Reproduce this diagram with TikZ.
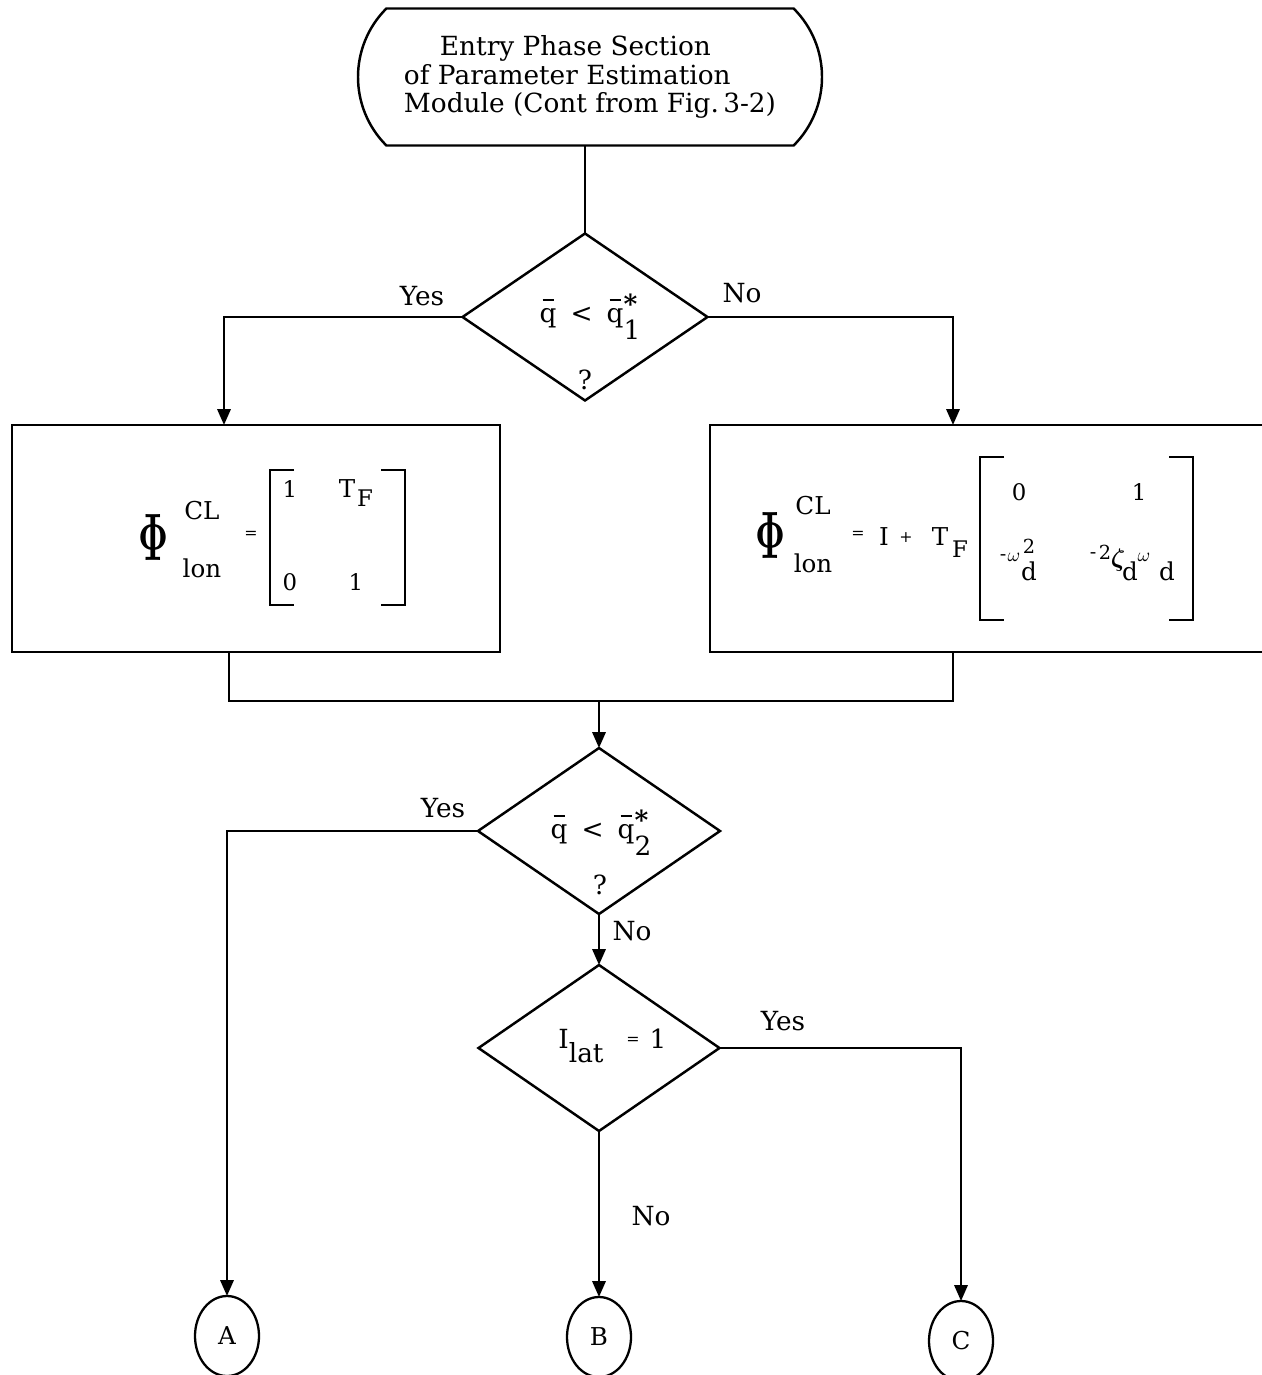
\documentclass[tikz,border=0pt]{standalone}
\usepackage{fontspec}
\usepackage{bm}
\setmainfont{DejaVu Serif}
\usetikzlibrary{shapes.geometric,shapes.misc,arrows.meta,calc}
\newlength\px
\setlength\px{0.02cm}
\newcommand\qb{\makebox[0pt][l]{\hspace{3\px}\raisebox{21\px}{\rule{11\px}{1.8\px}}}q}
\newcommand\qs[1]{\makebox[0pt][l]{\raisebox{9\px}{\textbf{*}}}\raisebox{-17\px}{#1}}
\begin{document}
\begin{tikzpicture}[x=0.02cm,y=-0.02cm,line width=1.4pt,
  every node/.style={inner sep=0pt,outer sep=0pt},
  txt/.style={anchor=base,font=\fontsize{15}{16}\selectfont},
  mid/.style={anchor=base,font=\fontsize{14}{15}\selectfont},
  sml/.style={anchor=base,font=\fontsize{13}{14}\selectfont},
  tiny/.style={anchor=base,font=\fontsize{11}{12}\selectfont},
  eqs/.style={font=\fontsize{9}{9}\selectfont},
  arr/.style={-{Triangle[length=9pt,width=7.5pt]}},
  dia/.style={draw,diamond},
  brk/.style={line width=1.3pt},
  conn/.style={draw,ellipse,line width=1.3pt,minimum width=64\px,minimum height=80\px,font=\fontsize{14}{15}\selectfont}]
\useasboundingbox (0,0) rectangle (1261,1375);

% terminal
\node[draw,rounded rectangle,rounded rectangle arc length=90,minimum width=464\px,minimum height=137\px,
  align=left,font=\fontsize{15}{16}\selectfont] (start) at (590,77)
  {\hspace*{36\px}Entry Phase Section\\of Parameter Estimation\\Module (Cont from Fig.\,3-2)};

% decision 1
\node[dia,minimum width=245\px,minimum height=167\px] (d1) at (585,317) {};
\node[txt] (d1a) at (590,322) {\qb\hspace{14\px}<\hspace{14\px}\qb\qs{1}};
\node[txt] (d1q) at (585,389) {?};

% process boxes
\node[draw,minimum width=488\px,minimum height=227\px] (b1) at (256,538.5) {};
\node[draw,minimum width=565\px,minimum height=227\px] (b2) at (992.5,538.5) {};

% left box formula
\node (phL) at (153,537) {\resizebox{30\px}{46\px}{$\bm{\Phi}$}};
\node[mid] (clL) at (202,519) {CL};
\node[mid] (lonL) at (202,577) {lon};
\node[eqs] (eqL) at (251,535) {=};
\draw[brk] (294,470) -- (270,470) -- (270,605) -- (294,605);
\draw[brk] (381,470) -- (405,470) -- (405,605) -- (381,605);
\node[sml] (m11) at (290,497) {1};
\node[mid] (m12) at (347,497) {T};
\node[sml] (m12s) at (365,506) {F};
\node[sml] (m21) at (290,590) {0};
\node[sml] (m22) at (356,590) {1};

% right box formula
\node (phR) at (770,535) {\resizebox{30\px}{46\px}{$\bm{\Phi}$}};
\node[mid] (clR) at (813,514) {CL};
\node[mid] (lonR) at (813,572) {lon};
\node[eqs] (eqR) at (858,535) {=};
\node[mid] (iR) at (884,545) {I};
\node[eqs] (plR) at (906,538) {+};
\node[mid] (tR) at (940,545) {T};
\node[sml] (fR) at (960,557) {F};
\draw[brk] (1004,457) -- (980,457) -- (980,620) -- (1004,620);
\draw[brk] (1169,457) -- (1193,457) -- (1193,620) -- (1169,620);
\node[sml] (n11) at (1019,500) {0};
\node[sml] (n12) at (1139,500) {1};
\node[tiny] (n21a) at (1003,560) {-};
\node[tiny] (n21b) at (1014,561) {$\omega$};
\node[tiny] (n21c) at (1029,553) {2};
\node[mid] (n21d) at (1029,580) {d};
\node[tiny] (n22a) at (1093,558) {-};
\node[tiny] (n22b) at (1105,559) {2};
\node[anchor=base,font=\fontsize{14}{15}\selectfont] (n22c) at (1118,566) {$\bm{\zeta}$};
\node[mid] (n22d) at (1130,580) {d};
\node[tiny] (n22e) at (1144,561) {$\omega$};
\node[mid] (n22f) at (1167,580) {d};

% decision 2
\node[dia,minimum width=242\px,minimum height=166\px] (d2) at (599,831) {};
\node[txt] (d2a) at (601,838) {\qb\hspace{14\px}<\hspace{14\px}\qb\qs{2}};
\node[txt] (d2q) at (600,894) {?};

% decision 3
\node[dia,minimum width=241\px,minimum height=166\px] (d3) at (599,1048) {};
\node[txt] (d3a) at (581,1048) {I\raisebox{-14\px}{lat}};
\node[eqs] (d3b) at (633,1041) {=};
\node[txt] (d3c) at (658,1048) {1};

% connectors
\node[conn] (cA) at (227,1336) {A};
\node[conn] (cB) at (599,1337) {B};
\node[conn] (cC) at (961,1341) {C};

\coordinate (m) at (599,701);
\draw (d1.north) -- (d1.north |- start.south);
\draw[arr] (d1.west) -| ($(b1.north)+(-32,0)$);
\draw[arr] (d1.east) -| ($(b2.north)+(-39.5,0)$);
\draw ($(b1.south)+(-27,0)$) |- (m) -| ($(b2.south)+(-39.5,0)$);
\draw[arr] (m) -- (d2.north);
\draw[arr] (d2.west) -| (cA.north);
\draw[arr] (d2.south) -- (d3.north);
\draw[arr] (d3.east) -| (cC.north);
\draw[arr] (d3.south) -- (cB.north);

% labels
\node[txt] (y1) at (422,305) {Yes};
\node[txt] (n1) at (742,302) {No};
\node[txt] (y2) at (443,817) {Yes};
\node[txt] (n2) at (632,940) {No};
\node[txt] (y3) at (783,1030) {Yes};
\node[txt] (n3) at (651,1225) {No};
\end{tikzpicture}
\end{document}
